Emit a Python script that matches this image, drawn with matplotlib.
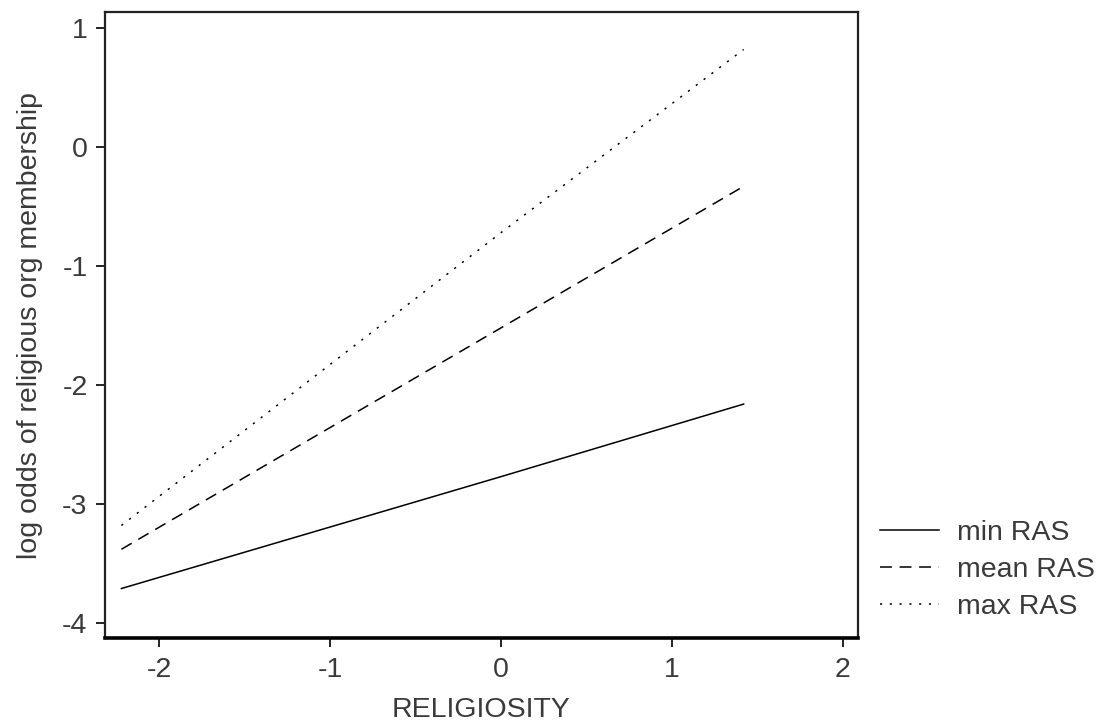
import matplotlib
matplotlib.use("Agg")
import matplotlib.pyplot as plt

# Predicted log odds at the ends and centre of the religiosity range
religiosity = [-2.22, 0.0, 1.42]
min_ras = [-3.71, -2.77, -2.16]
mean_ras = [-3.38, -1.52, -0.33]
max_ras = [-3.18, -0.72, 0.82]

series_labels = ["min RAS", "mean RAS", "max RAS"]
x_ticks = [-2, -1, 0, 1, 2]
y_ticks = [-4, -3, -2, -1, 0, 1]

plt.rcParams["font.family"] = ["Liberation Sans", "DejaVu Sans"]
text_color = "#3a3a3a"
fs = 20.5

fig = plt.figure(figsize=(10.97, 7.22), dpi=100)
ax = fig.add_axes([0.0957, 0.1163, 0.6863, 0.8671])

ax.plot(religiosity, min_ras, color="black", lw=1.1, ls="-", label=series_labels[0])
ax.plot(religiosity, mean_ras, color="black", lw=1.1, ls=(0, (7.8, 5.0)), label=series_labels[1])
ax.plot(religiosity, max_ras, color="black", lw=1.1, ls=(0, (1.4, 5.0)), label=series_labels[2])

ax.set_xlim(-2.316, 2.088)
ax.set_ylim(-4.126, 1.135)
ax.set_xticks(x_ticks)
ax.set_yticks(y_ticks)
ax.set_xticklabels([str(v) for v in x_ticks])
ax.set_yticklabels([str(v) for v in y_ticks])

for side in ["top", "right", "left"]:
    ax.spines[side].set_linewidth(1.6)
    ax.spines[side].set_color("#222222")
ax.spines["bottom"].set_linewidth(2.6)
ax.tick_params(direction="out", length=6.5, width=1.4, labelsize=fs, pad=6,
               colors="#222222", labelcolor=text_color)
ax.tick_params(axis="x", pad=7)

ax.set_xlabel("RELIGIOSITY", fontsize=fs, labelpad=10, color=text_color)
ax.set_ylabel("log odds of religious org membership", fontsize=fs, labelpad=14, color=text_color)

ax.legend(loc="upper left", bbox_to_anchor=(1.029, 0.188), frameon=False,
          fontsize=fs, handlelength=2.1, handletextpad=0.62, labelspacing=0.38,
          borderaxespad=0.0, borderpad=0.0, labelcolor=text_color)

fig.savefig("out.png", dpi=100)
